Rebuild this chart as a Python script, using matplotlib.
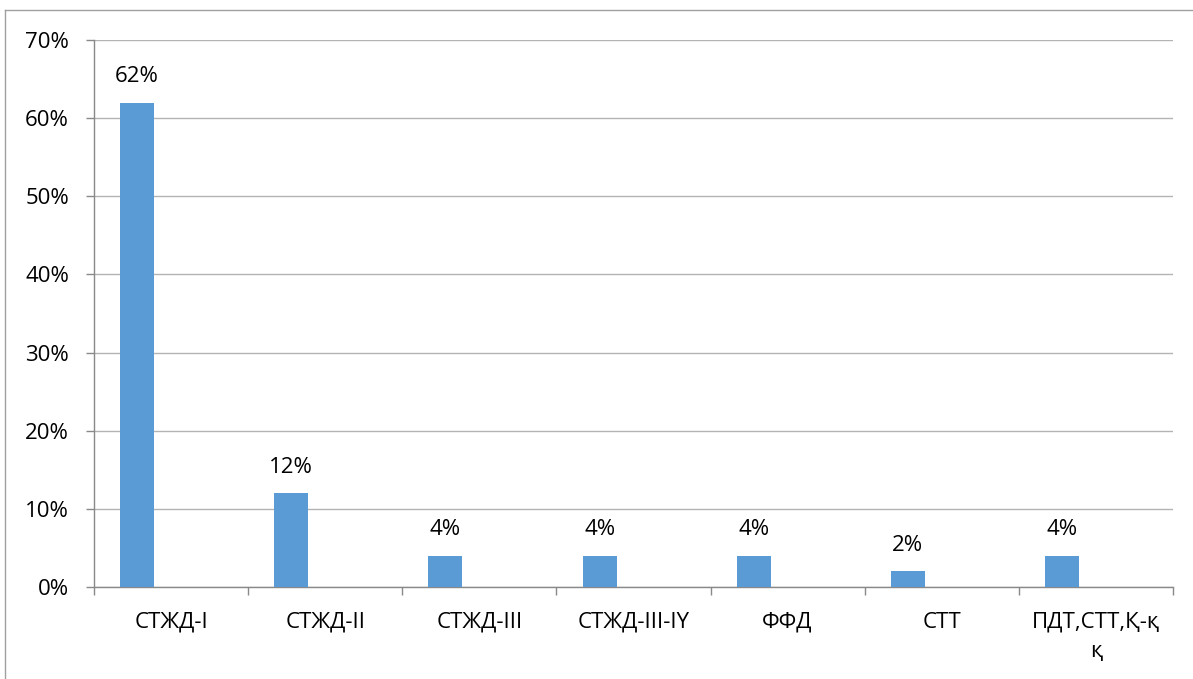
import matplotlib
matplotlib.use("Agg")
import matplotlib.pyplot as plt
from matplotlib.lines import Line2D
from matplotlib.ticker import FuncFormatter
import numpy as np

categories = ["СТЖД-I", "СТЖД-II", "СТЖД-III", "СТЖД-III-IY", "ФФД", "СТТ", "ПДТ,СТТ,Қ-қ\nқ"]
values = [62, 12, 4, 4, 4, 2, 4]
labels = ["62%", "12%", "4%", "4%", "4%", "2%", "4%"]
yticks = [0, 10, 20, 30, 40, 50, 60, 70]

plt.rcParams['font.family'] = ['Open Sans', 'DejaVu Sans']
FS = 16

fig = plt.figure(figsize=(11.93, 6.79), dpi=100)
ax = fig.add_axes([0.0788, 0.1355, 0.9832 - 0.0788, 0.9411 - 0.1355])

x = np.arange(len(categories))
bw = 0.22
bars = ax.bar(x - bw, values, width=bw, color="#5b9bd5", zorder=3)
for xi, v, lab in zip(x, values, labels):
    ax.annotate(lab, (xi - bw, v), xytext=(0, 11), textcoords="offset points",
                ha="center", va="bottom", fontsize=FS, color="#000000")

ax.set_xlim(-0.5, len(categories) - 0.5)
ax.set_ylim(0, 70)
ax.set_yticks(yticks)
ax.yaxis.set_major_formatter(FuncFormatter(lambda v, p: f"{int(v)}%"))
ax.yaxis.grid(True, color="#b3b3b3", linewidth=1.0, zorder=0)
ax.set_xticks(x)
ax.set_xticklabels(categories, fontsize=FS, linespacing=1.5)
ax.set_xticks(np.arange(len(categories) + 1) - 0.5, minor=True)
ax.tick_params(axis="x", which="major", length=0, pad=18)
ax.tick_params(axis="x", which="minor", length=6, color="#898989", width=1)
ax.tick_params(axis="y", length=6, color="#898989", width=1, pad=12, labelsize=FS)

for s in ["top", "right"]:
    ax.spines[s].set_visible(False)
for s in ["left", "bottom"]:
    ax.spines[s].set_color("#898989")
    ax.spines[s].set_linewidth(1)

# outer chart-area border (only top and left visible)
fig.add_artist(Line2D([5/1193, 1.05], [1 - 10/679, 1 - 10/679], transform=fig.transFigure, color="#a0a0a0", linewidth=1))
fig.add_artist(Line2D([5/1193, 5/1193], [-0.05, 1 - 10/679], transform=fig.transFigure, color="#a0a0a0", linewidth=1))

fig.savefig("out.png", dpi=100)
